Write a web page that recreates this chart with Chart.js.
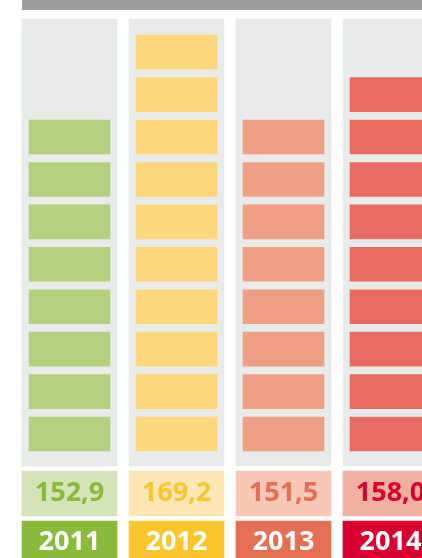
<!DOCTYPE html>
<html>
<head>
<meta charset="utf-8">
<script src="https://cdn.jsdelivr.net/npm/chart.js@4"></script>
<style>
  html, body { margin: 0; padding: 0; background: #fff; overflow: hidden; }
  #wrap { position: relative; width: 422px; height: 558px; overflow: hidden; }
  #banner { position: absolute; left: 22px; top: 0; width: 400px; height: 10px; background: #9d9ea0; }
  #chart { position: absolute; left: 16px; top: 0; }
</style>
</head>
<body>
<div id="wrap">
  <canvas id="chart" width="428" height="558"></canvas>
  <div id="banner"></div>
</div>
<script>
(function () {
  'use strict';

  // Data
  const years = ['2011', '2012', '2013', '2014'];
  const values = [152.9, 169.2, 151.5, 158.0];
  const blocks = [8, 10, 8, 9];

  // Colours per year
  const blockColors = ['#b2d07d', '#fdd77a', '#efa084', '#e86b63'];
  const valueBoxColors = ['#d5e4b8', '#fee7b4', '#f7c8b7', '#f1afa0'];
  const valueTextColors = ['#8aba3c', '#fdc52c', '#e46f52', '#d90030'];
  const yearBoxColors = ['#8aba3c', '#fdc52c', '#e46f52', '#d90030'];

  // Layout in block-slot units (1 slot = one block plus its gap)
  const BLOCK_H = 0.8;
  const BG_RANGE = [-0.354, 10.18];
  const VALUE_RANGE = [-1.532, -0.471];
  const YEAR_RANGE = [-2.64, -1.65];
  const YEAR_TEXT_Y = -2.16;
  const maxBlocks = Math.max.apply(null, blocks);

  const datasets = [];

  for (let k = 0; k < maxBlocks; k++) {
    datasets.push({
      label: 'block' + k,
      data: blocks.map(function (n) { return k < n ? [k, k + BLOCK_H] : null; }),
      backgroundColor: blockColors,
      barThickness: 81,
      grouped: false,
    });
  }

  datasets.push({
    label: 'values',
    data: years.map(function () { return VALUE_RANGE; }),
    backgroundColor: valueBoxColors,
    barThickness: 95,
    grouped: false,
  });

  datasets.push({
    label: 'years',
    data: years.map(function () { return YEAR_RANGE; }),
    backgroundColor: yearBoxColors,
    barThickness: 95,
    grouped: false,
  });

  // last dataset is painted first, so the grey column sits behind the blocks
  datasets.push({
    label: 'bg',
    data: years.map(function () { return BG_RANGE; }),
    backgroundColor: '#e9ebea',
    barThickness: 95,
    grouped: false,
  });

  const boxLabels = {
    id: 'boxLabels',
    afterDatasetsDraw: function (chart) {
      const ctx = chart.ctx;
      ctx.save();
      ctx.textAlign = 'center';
      ctx.textBaseline = 'middle';
      ctx.font = 'bold 27px "Open Sans", sans-serif';
      chart.data.datasets.forEach(function (ds, di) {
        if (ds.label !== 'values' && ds.label !== 'years') return;
        const meta = chart.getDatasetMeta(di);
        meta.data.forEach(function (bar, i) {
          if (ds.label === 'values') {
            ctx.fillStyle = valueTextColors[i];
            ctx.fillText(values[i].toFixed(1).replace('.', ','), bar.x, (bar.y + bar.base) / 2);
          } else {
            ctx.fillStyle = '#ffffff';
            ctx.fillText(years[i], bar.x, chart.scales.y.getPixelForValue(YEAR_TEXT_Y));
          }
        });
      });
      ctx.restore();
    },
  };

  new Chart(document.getElementById('chart'), {
    type: 'bar',
    data: { labels: years, datasets: datasets },
    plugins: [boxLabels],
    options: {
      responsive: false,
      animation: false,
      layout: { padding: 0 },
      plugins: {
        legend: { display: false },
        tooltip: { enabled: false },
      },
      scales: {
        x: { display: false, offset: true },
        y: { display: false, min: -2.522, max: 10.629 },
      },
    },
  });
})();
</script>
</body>
</html>
